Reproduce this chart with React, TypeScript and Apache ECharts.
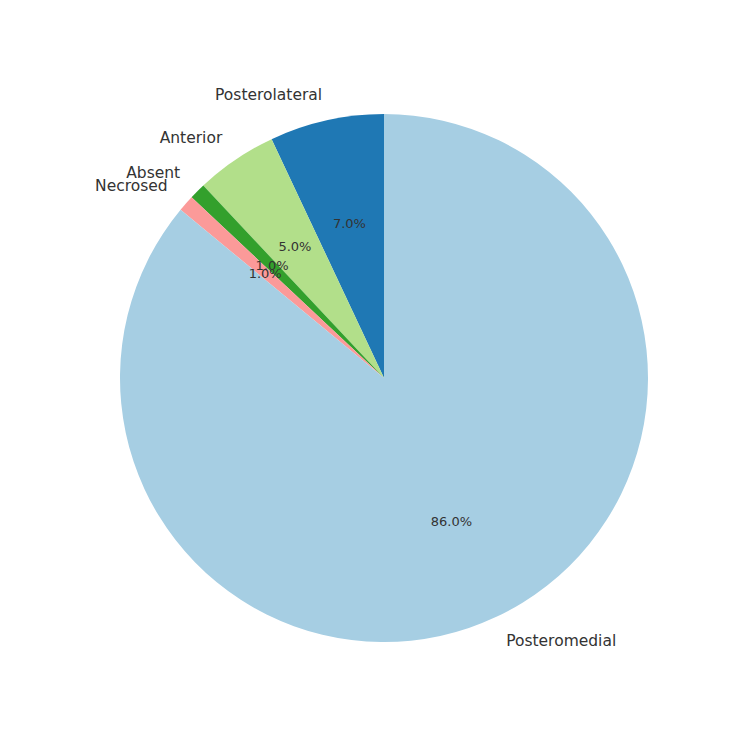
import React, { useEffect, useRef } from "react";
import * as echarts from "echarts";

const categories = ["Posterolateral", "Anterior", "Absent", "Necrosed", "Posteromedial"];
const values = [7, 5, 1, 1, 86];
const colors = ["#1f78b4", "#b2df8a", "#33a02c", "#fb9a99", "#a6cee3"];

const R = 264;
const CENTER = [384, 378];
const FONT = "DejaVu Sans";
const TEXT = "#333333";

export default function App() {
  const ref = useRef<HTMLDivElement>(null);
  useEffect(() => {
    const chart = echarts.init(ref.current!, null, { renderer: "svg" });
    const data = categories.map((name, i) => ({ name, value: values[i], itemStyle: { color: colors[i] } }));
    chart.setOption({
      animation: false,
      backgroundColor: "#ffffff",
      series: [
        {
          type: "pie",
          center: CENTER,
          radius: [0, R],
          startAngle: 90,
          clockwise: false,
          avoidLabelOverlap: false,
          silent: true,
          data,
          itemStyle: { borderWidth: 0 },
          labelLayout: { hideOverlap: false },
          label: {
            show: true,
            position: "outside",
            formatter: "{b}",
            fontFamily: FONT,
            fontSize: 15.5,
            color: TEXT,
            distanceToLabelLine: -1.5,
          },
          labelLine: { show: false, length: R * 0.1, length2: 0 },
          emphasis: { disabled: true },
        },
        {
          type: "pie",
          center: CENTER,
          radius: [R * 0.2 - 6, R],
          startAngle: 90,
          clockwise: false,
          avoidLabelOverlap: false,
          silent: true,
          z: 3,
          data: categories.map((name, i) => ({ name, value: values[i] })),
          itemStyle: { color: "rgba(0,0,0,0)", borderWidth: 0 },
          labelLayout: { hideOverlap: false },
          label: {
            show: true,
            position: "inside",
            formatter: (p: any) => p.percent.toFixed(1) + "%",
            fontFamily: FONT,
            fontSize: 13,
            color: TEXT,
          },
          labelLine: { show: false },
          emphasis: { disabled: true },
        },
      ],
    });
    return () => chart.dispose();
  }, []);
  return (
    <div
      ref={ref}
      style={{ position: "fixed", left: 0, top: 0, width: 750, height: 750 }}
    />
  );
}
